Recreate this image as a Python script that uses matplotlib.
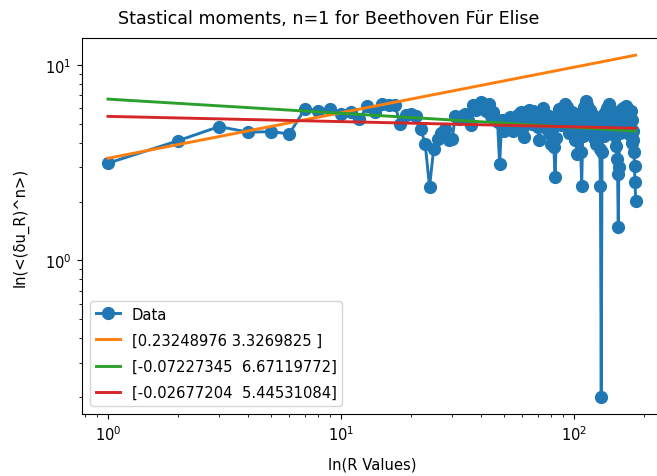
import numpy as np
import matplotlib
matplotlib.use("Agg")
import matplotlib.pyplot as plt

# Lag values R and the first statistical moment at each lag
r_values = list(range(1, 185))
moment_values = [
    3.14, 4.09, 4.83, 4.52, 4.55, 4.43, 5.94, 5.82, 5.94, 5.60,
    5.72, 5.28, 6.13, 5.72, 6.30, 6.20, 6.25, 4.98, 5.54, 5.60,
    5.45, 4.70, 3.94, 2.37, 3.71, 4.18, 4.50, 4.70, 4.10, 4.17,
    5.50, 5.30, 5.45, 5.60, 5.20, 4.90, 6.20, 5.90, 6.10, 6.43,
    6.00, 5.80, 6.30, 5.50, 5.70, 5.30, 5.08, 3.10, 5.20, 4.60,
    5.00, 5.28, 5.40, 5.00, 4.60, 5.30, 5.50, 5.60, 5.70, 4.70,
    4.26, 5.10, 5.70, 5.90, 5.40, 5.00, 5.80, 5.60, 5.20, 4.80,
    4.10, 5.30, 5.80, 6.00, 5.60, 5.00, 4.70, 5.50, 4.40, 3.93,
    4.80, 3.80, 2.66, 4.20, 5.20, 5.95, 5.50, 4.90, 5.60, 6.00,
    5.80, 6.30, 6.10, 5.50, 4.50, 5.40, 5.00, 5.70, 4.40, 5.30,
    4.10, 5.20, 3.50, 4.80, 5.60, 4.60, 3.57, 2.41, 4.30, 5.80,
    6.10, 5.50, 6.50, 6.20, 5.70, 4.90, 5.90, 5.30, 4.60, 5.60,
    5.00, 4.20, 5.40, 4.70, 3.93, 4.50, 5.20, 4.40, 3.70, 2.40,
    0.20, 3.60, 4.80, 5.60, 4.30, 5.20, 5.80, 5.40, 6.00, 5.95,
    5.50, 6.30, 5.60, 4.90, 5.28, 5.80, 4.60, 5.50, 5.10, 4.30,
    5.30, 3.86, 3.30, 2.77, 1.48, 3.00, 4.50, 5.40, 5.90, 4.80,
    5.50, 6.00, 5.20, 5.70, 4.70, 5.90, 6.17, 5.40, 6.00, 5.00,
    5.60, 4.40, 5.30, 4.90, 5.80, 4.60, 5.20, 4.00, 4.60, 4.10,
    3.60, 3.05, 2.51, 2.02,
]

# Power-law fit parameters [exponent, amplitude]
fit_orange = [0.23248976, 3.3269825]
fit_green = [-0.07227345, 6.67119772]
fit_red = [-0.02677204, 5.44531084]
fit_labels = [
    "[0.23248976 3.3269825 ]",
    "[-0.07227345  6.67119772]",
    "[-0.02677204  5.44531084]",
]

x = np.array(r_values, dtype=float)
y = np.array(moment_values)

fig = plt.figure(figsize=(6.57, 4.77), dpi=100)
ax = fig.add_axes([0.1242, 0.1291, 0.8834, 0.789])

lw = 2.1
ax.plot(x, y, "o-", color="C0", lw=lw, ms=8.5, label="Data")
for (a, b), col, lab in zip([fit_orange, fit_green, fit_red], ["C1", "C2", "C3"], fit_labels):
    ax.plot(x, b * x ** a, color=col, lw=lw, label=lab)

ax.set_xscale("log")
ax.set_yscale("log")

fs = 10.6
fig.suptitle("Stastical moments, n=1 for Beethoven Für Elise", fontsize=12.6,
             x=0.5, y=0.978, va="top")
ax.set_xlabel("ln(R Values)", fontsize=fs, labelpad=10)
ax.set_ylabel("ln(<(δu_R)^n>)", fontsize=fs, labelpad=12)
ax.tick_params(labelsize=fs)
ax.legend(loc="lower left", fontsize=fs, labelspacing=0.75, handlelength=1.6,
          borderaxespad=0.6)

fig.savefig("out.png", dpi=100)
